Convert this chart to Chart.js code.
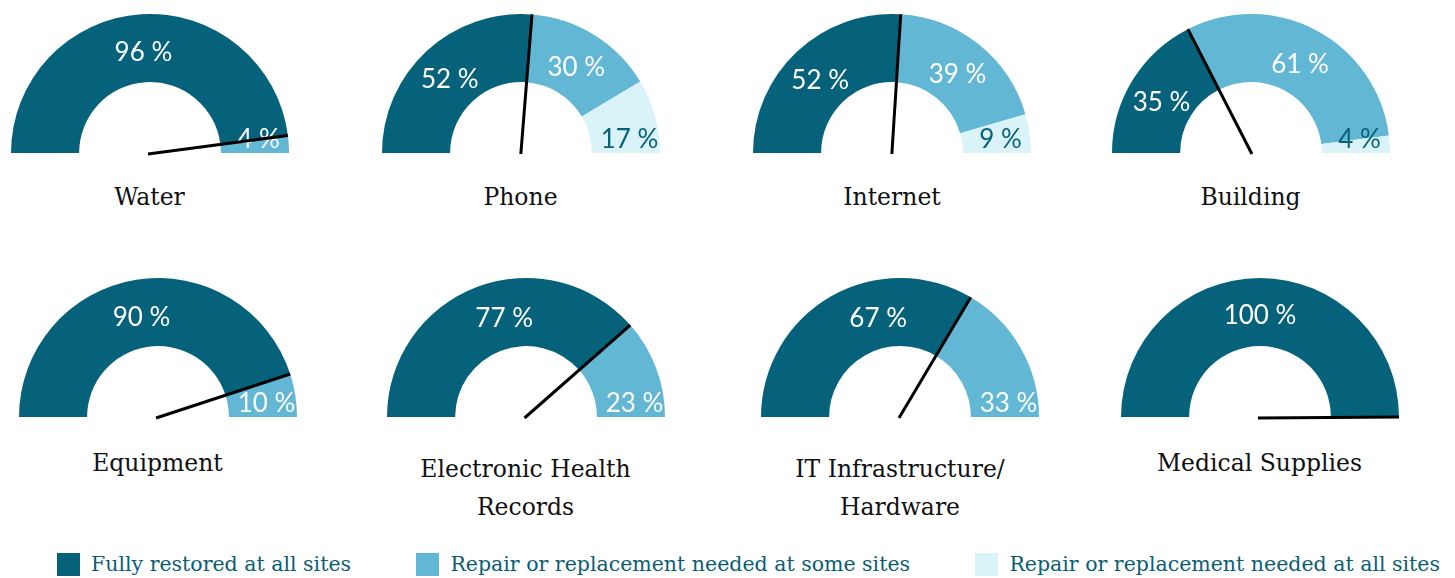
<!DOCTYPE html>
<html>
<head>
<meta charset="utf-8">
<script src="https://cdn.jsdelivr.net/npm/chart.js@4.4.1/dist/chart.umd.min.js"></script>
<style>
  html, body { margin: 0; padding: 0; background: #fff; }
  body { width: 1455px; height: 578px; position: relative; overflow: hidden; font-family: 'DejaVu Serif', serif; }
  .gauge { position: absolute; width: 290px; height: 145px; }
  .name { position: absolute; width: 320px; text-align: center; font-size: 23.5px; line-height: 38px; color: #111; }
  #legend { position: absolute; left: 57px; width: 1383px; top: 552px; display: flex; justify-content: space-between; }
  #legend .item { display: flex; align-items: center; font-size: 20.5px; color: #0a5e74; }
  #legend .box { width: 23px; height: 23px; margin-right: 11px; }
</style>
</head>
<body>
<div id="legend"></div>
<script>
// gauge names (multi-line ones as arrays)
const categories = ['Water', 'Phone', 'Internet', 'Building', 'Equipment',
  ['Electronic Health', 'Records'], ['IT Infrastructure/', 'Hardware'], 'Medical Supplies'];
const fullyRestored = [96, 52, 52, 35, 90, 77, 67, 100];
const someSites     = [4, 30, 39, 61, 10, 23, 33, 0];
const allSites      = [0, 17, 9, 4, 0, 0, 0, 0];
const seriesNames = ['Fully restored at all sites', 'Repair or replacement needed at some sites', 'Repair or replacement needed at all sites'];
const colors = ['#06627a', '#62b7d5', '#daf3f8'];

// layout: gauge centres and baselines
const gaugeX = [149.5, 520.5, 892, 1250.5, 157.5, 525.5, 900, 1259.5];
const rowBase = [153, 417];

// percentage labels inside the arcs
const arcLabels = {
  id: 'arcLabels',
  afterDatasetsDraw(chart) {
    const ctx = chart.ctx;
    const ds = chart.data.datasets[0];
    const arcs = chart.getDatasetMeta(0).data;
    const total = ds.data.reduce((a, b) => a + b, 0);
    let last = -1;
    ds.data.forEach((v, i) => { if (v > 0) last = i; });
    ctx.save();
    ctx.font = '26px Lato';
    ctx.textAlign = 'center';
    ctx.textBaseline = 'middle';
    arcs.forEach((arc, i) => {
      const v = ds.data[i];
      if (!v) return;
      let theta = -(arc.startAngle + arc.endAngle) / 2; // from the right, upwards
      let r = (arc.innerRadius + arc.outerRadius) / 2;
      if (i === last && i > 0) {
        theta = 9 * Math.PI / 180;
        r += 5;
      }
      if (i === 0 && v / total >= 0.6) theta = Math.min(theta, 102 * Math.PI / 180);
      ctx.fillStyle = i === 2 ? colors[0] : '#fff';
      ctx.fillText(v + ' %', arc.x + Math.cos(theta) * r, arc.y - Math.sin(theta) * r + 4);
    });
    ctx.restore();
  }
};

// needle at the end of the "fully restored" arc
const needle = {
  id: 'needle',
  afterDatasetsDraw(chart) {
    const arc = chart.getDatasetMeta(0).data[0];
    const a = arc.endAngle;
    const ctx = chart.ctx;
    ctx.save();
    ctx.beginPath();
    ctx.moveTo(arc.x - Math.cos(a) * 2, arc.y + 1);
    ctx.lineTo(arc.x + Math.cos(a) * arc.outerRadius, arc.y + Math.sin(a) * arc.outerRadius);
    ctx.lineWidth = 3;
    ctx.strokeStyle = '#000';
    ctx.stroke();
    ctx.restore();
  }
};

categories.forEach((name, i) => {
  const row = i < 4 ? 0 : 1;
  const cx = gaugeX[i];
  const base = rowBase[row];

  const wrap = document.createElement('div');
  wrap.className = 'gauge';
  wrap.style.left = (cx - 145) + 'px';
  wrap.style.top = (base - 141) + 'px';
  const canvas = document.createElement('canvas');
  canvas.width = 290;
  canvas.height = 145;
  wrap.appendChild(canvas);
  document.body.appendChild(wrap);

  const label = document.createElement('div');
  label.className = 'name';
  label.style.left = (cx - 160) + 'px';
  let top = base + (row === 0 ? 25 : 27);
  if (Array.isArray(name)) top += 6;
  label.style.top = top + 'px';
  label.innerHTML = [].concat(name).join('<br>');
  document.body.appendChild(label);

  new Chart(canvas, {
    type: 'doughnut',
    data: {
      labels: seriesNames,
      datasets: [{
        data: [fullyRestored[i], someSites[i], allSites[i]],
        backgroundColor: colors,
        borderWidth: 0
      }]
    },
    options: {
      responsive: false,
      animation: false,
      rotation: -90,
      circumference: 180,
      cutout: '51%',
      layout: { padding: { left: 6, right: 6, top: 2, bottom: 4 } },
      plugins: {
        legend: { display: false },
        tooltip: { enabled: false }
      }
    },
    plugins: [arcLabels, needle]
  });
});

// shared legend
const legend = document.getElementById('legend');
seriesNames.forEach((s, i) => {
  const item = document.createElement('div');
  item.className = 'item';
  item.innerHTML = '<span class="box" style="background:' + colors[i] + '"></span><span>' + s + '</span>';
  legend.appendChild(item);
});
</script>
</body>
</html>
